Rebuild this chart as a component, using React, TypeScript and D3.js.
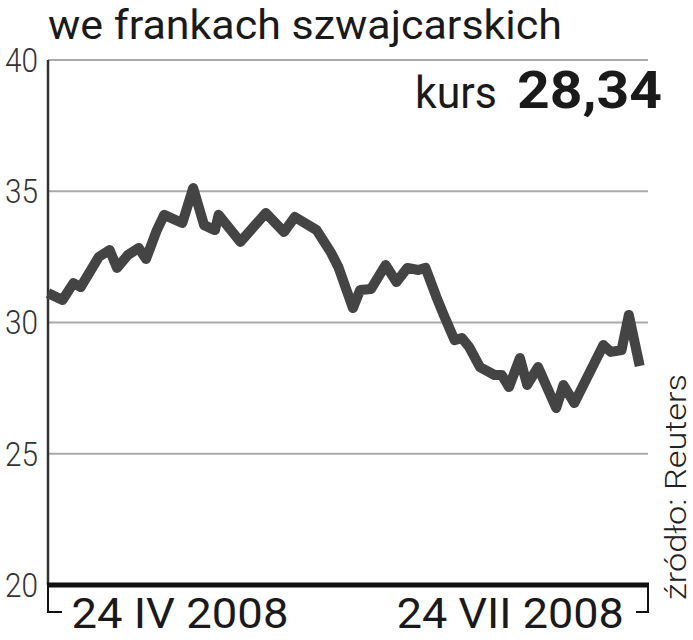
import React from "react";
import * as d3 from "d3";

const dates = [
  "2008-03-17","2008-03-21","2008-03-24","2008-03-26","2008-03-31","2008-04-03","2008-04-05","2008-04-08",
  "2008-04-11","2008-04-13","2008-04-16","2008-04-18","2008-04-23","2008-04-26","2008-04-29","2008-05-02",
  "2008-05-03","2008-05-09","2008-05-16","2008-05-21","2008-05-24","2008-05-30","2008-06-03","2008-06-05",
  "2008-06-09","2008-06-11","2008-06-14","2008-06-18","2008-06-21","2008-06-24","2008-06-27","2008-06-29",
  "2008-07-02","2008-07-04","2008-07-07","2008-07-09","2008-07-11","2008-07-14","2008-07-18","2008-07-20",
  "2008-07-22","2008-07-25","2008-07-27","2008-07-30","2008-08-04","2008-08-06","2008-08-09","2008-08-17",
  "2008-08-19","2008-08-22","2008-08-24","2008-08-27"
];
const values = [
  31.12,30.86,31.5,31.35,32.5,32.76,32.08,32.57,
  32.84,32.42,33.52,34.1,33.79,35.12,33.71,33.52,
  34.1,33.07,34.17,33.45,34.02,33.52,32.65,32.11,
  30.55,31.24,31.28,32.19,31.54,32.08,32.0,32.08,
  30.97,30.29,29.33,29.41,29.07,28.3,28.0,28.0,
  27.54,28.65,27.62,28.3,26.74,27.62,26.93,29.14,
  28.88,28.95,30.29,28.34
];
const yTicks = [20, 25, 30, 35, 40];
const xLabels = [
  { date: "2008-04-24", text: "24 IV 2008" },
  { date: "2008-07-24", text: "24 VII 2008" },
];
const title = "we frankach szwajcarskich";
const kursLabel = "kurs";
const kursValue = "28,34";
const source = "źródło: Reuters";

const W = 693, H = 640;
const left = 48, right = 648, plotEnd = 639.7, top = 60, bottom = 585;
const FONT = "Roboto, 'DejaVu Sans', sans-serif";

export default function App() {
  const parse = d3.utcParse("%Y-%m-%d");
  const data = dates.map((d, i) => ({ date: parse(d) as Date, value: values[i] }));
  const x = d3.scaleUtc()
    .domain([data[0].date, data[data.length - 1].date])
    .range([left, plotEnd]);
  const y = d3.scaleLinear().domain([20, 40]).range([bottom, top]);
  const line = d3.line<{ date: Date; value: number }>()
    .x(d => x(d.date))
    .y(d => y(d.value));

  return (
    <svg width={W} height={H} style={{ position: "absolute", left: 0, top: 0, background: "#fff" }}>
      <rect width={W} height={H} fill="#fff" />
      <text x={left} y={39} fontFamily={FONT} fontSize={40} fill="#1a1a1a"
        textLength={514} lengthAdjust="spacingAndGlyphs">{title}</text>
      {yTicks.filter(t => t !== 20).map(t => (
        <line key={t} x1={left} x2={right} y1={y(t)} y2={y(t)} stroke="#aaa" strokeWidth={2} />
      ))}
      {yTicks.map(t => (
        <text key={"l" + t} x={38} y={y(t)} dy="0.36em" textAnchor="end" fontFamily={FONT}
          fontWeight={300} fontSize={33} fill="#333" textLength={33} lengthAdjust="spacingAndGlyphs">{t}</text>
      ))}
      <line x1={left} x2={left} y1={top} y2={bottom} stroke="#333" strokeWidth={2.5} />
      <text x={415} y={108} fontFamily={FONT} fontSize={44} fill="#1a1a1a"
        textLength={82} lengthAdjust="spacingAndGlyphs">{kursLabel}</text>
      <text x={517} y={108} fontFamily={FONT} fontWeight={700} fontSize={52} fill="#1a1a1a"
        textLength={145} lengthAdjust="spacingAndGlyphs">{kursValue}</text>
      <path d={line(data) || ""} fill="none" stroke="#444" strokeWidth={10} strokeLinejoin="round" />
      <line x1={left - 1} x2={right + 1} y1={bottom} y2={bottom} stroke="#111" strokeWidth={5} />
      <path d={`M${left},${bottom} V612 H${left + 14}`} fill="none" stroke="#111" strokeWidth={2} />
      <path d={`M${right},${bottom} V612 H${right - 12}`} fill="none" stroke="#111" strokeWidth={2} />
      {xLabels.map((l, i) => (
        <text key={l.text} x={x(parse(l.date) as Date)} dx={-6} y={628} textAnchor="middle" fontFamily={FONT}
          fontWeight={400} fontSize={42} fill="#1a1a1a" textLength={i === 0 ? 217 : 227}
          lengthAdjust="spacingAndGlyphs">{l.text}</text>
      ))}
      <text transform="translate(686,600) rotate(-90)" fontFamily={FONT} fontWeight={300} fontSize={29}
        fill="#222" textLength={226} lengthAdjust="spacingAndGlyphs">{source}</text>
    </svg>
  );
}
